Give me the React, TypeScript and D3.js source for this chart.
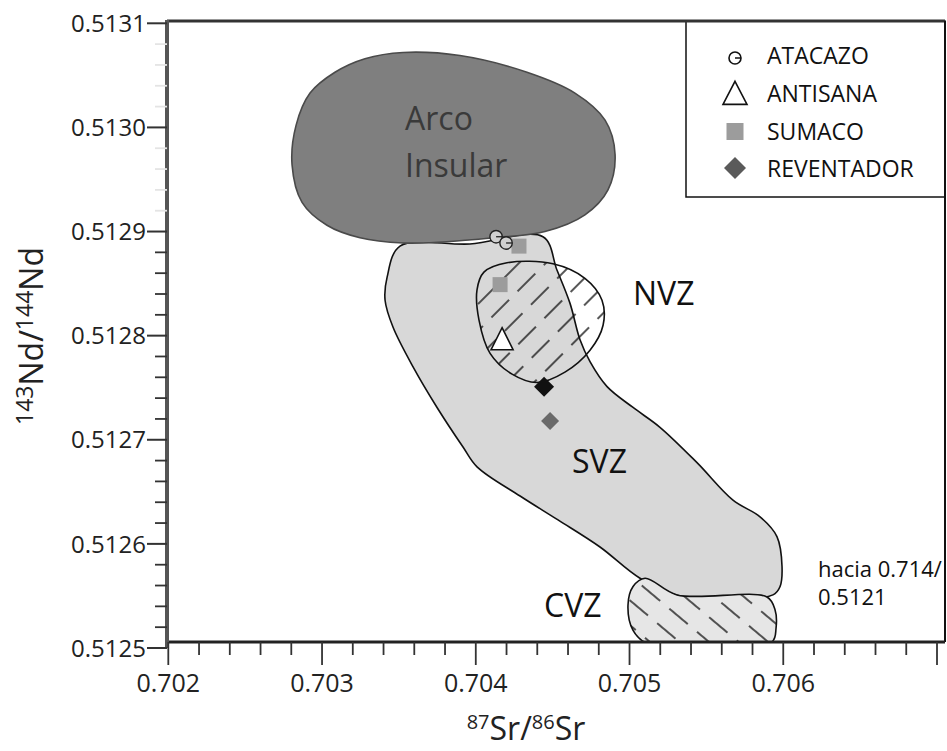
import React from 'react';
import * as d3 from 'd3';

const W = 947;
const H = 751;

// Axis ticks
const xMajorTicks = [0.702, 0.703, 0.704, 0.705, 0.706, 0.707];
const xTickLabels = ['0.702', '0.703', '0.704', '0.705', '0.706', ''];
const yMajorTicks = [0.5125, 0.5126, 0.5127, 0.5128, 0.5129, 0.513, 0.5131];
const yTickLabels = ['0.5125', '0.5126', '0.5127', '0.5128', '0.5129', '0.5130', '0.5131'];

// Fields (outline vertices, data units: [87Sr/86Sr, 143Nd/144Nd])
const arcoInsular: [number, number][] = [
  [0.702805, 0.512964], [0.702831, 0.513002], [0.702922, 0.513033], [0.703084, 0.513053],
  [0.703279, 0.513066], [0.703527, 0.513072], [0.703897, 0.513069], [0.704333, 0.513053],
  [0.704645, 0.513033], [0.704841, 0.513007], [0.704906, 0.512974], [0.70486, 0.51294],
  [0.70471, 0.512916], [0.70445, 0.5129], [0.704112, 0.512894], [0.703787, 0.51289],
  [0.703527, 0.512889], [0.703247, 0.512894], [0.703032, 0.512906], [0.70287, 0.512928],
];
const svz: [number, number][] = [
  [0.703507, 0.512886], [0.703962, 0.512888], [0.704437, 0.512895], [0.704528, 0.512863],
  [0.704613, 0.512831], [0.704678, 0.512796], [0.704743, 0.512775], [0.704854, 0.512751],
  [0.705023, 0.512731], [0.705198, 0.512712], [0.705439, 0.512678], [0.705673, 0.512642],
  [0.705849, 0.512626], [0.705959, 0.512607], [0.705992, 0.512578], [0.705979, 0.512559],
  [0.705933, 0.512551], [0.705328, 0.51255], [0.705068, 0.512567], [0.704808, 0.512597],
  [0.704535, 0.512623], [0.704288, 0.512646], [0.704008, 0.512674], [0.703917, 0.512693],
  [0.703748, 0.512731], [0.703592, 0.51277], [0.703462, 0.512808], [0.70341, 0.512834],
  [0.703423, 0.512856],
];
const nvz: [number, number][] = [
  [0.704203, 0.51287], [0.704502, 0.512869], [0.70471, 0.512855], [0.704821, 0.512834],
  [0.704828, 0.51281], [0.704743, 0.512786], [0.70458, 0.512765], [0.704398, 0.512755],
  [0.704236, 0.512763], [0.704093, 0.512783], [0.704021, 0.512815], [0.704008, 0.512844],
  [0.704053, 0.512861],
];
const cvz: [number, number][] = [
  [0.705101, 0.512567], [0.705309, 0.512551], [0.705894, 0.512549], [0.705946, 0.512537],
  [0.705953, 0.512519], [0.705927, 0.512506], [0.705458, 0.512502], [0.70512, 0.512504],
  [0.705023, 0.512517], [0.70499, 0.512541], [0.705023, 0.512559],
];

// Samples
const atacazo: [number, number][] = [[0.704132, 0.512895], [0.704197, 0.512889]];
const sumaco: [number, number][] = [[0.704281, 0.512886], [0.704158, 0.512849]];
const antisana: [number, number][] = [[0.704171, 0.512796]];
const reventador: [number, number][] = [[0.704444, 0.512751], [0.704483, 0.512718]];

const legendNames = ['ATACAZO', 'ANTISANA', 'SUMACO', 'REVENTADOR'];

const FONT = "'Open Sans', 'Noto Sans', sans-serif";

export default function App() {
  const left = 167, right = 945, top = 21, bottom = 642;
  const x = d3.scaleLinear().domain([0.702, 0.707]).range([168.3, 937]);
  const y = d3.scaleLinear().domain([0.5125, 0.5131]).range([648, 23.3]);

  const shape = d3
    .line<[number, number]>()
    .x((d) => x(d[0]))
    .y((d) => y(d[1]))
    .curve(d3.curveCatmullRomClosed.alpha(0.5));

  const xMinor = d3.range(0, 26).map((i) => 0.702 + i * 0.0002).filter((_, i) => i % 5 !== 0);
  const yMinor = d3.range(0, 31).map((i) => 0.5125 + i * 0.00002).filter((_, i) => i % 5 !== 0);

  const diamond = (cx: number, cy: number, r: number) =>
    `M${cx},${cy - r}L${cx + r},${cy}L${cx},${cy + r}L${cx - r},${cy}Z`;
  const triangle = (cx: number, cy: number, w: number, h: number) =>
    `M${cx},${cy - h * 0.55}L${cx + w / 2},${cy + h * 0.45}L${cx - w / 2},${cy + h * 0.45}Z`;

  const legendX = 686, legendSym = 735, legendText = 767;
  const legendBase = [64, 102, 140, 177];

  return (
    <svg width={W} height={H} style={{ position: 'absolute', left: 0, top: 0, background: '#fff' }}
      fontFamily={FONT}>
      <defs>
        <clipPath id="plotClip">
          <rect x={left} y={top} width={right - left} height={bottom - top} />
        </clipPath>
        <pattern id="hatchN" patternUnits="userSpaceOnUse" width={19} height={37}
          patternTransform="rotate(45)">
          <line x1={2} y1={0} x2={2} y2={25} stroke="#111" strokeWidth={1.4} />
        </pattern>
        <pattern id="hatchC" patternUnits="userSpaceOnUse" width={19} height={36}
          patternTransform="rotate(-50)">
          <line x1={2} y1={4} x2={2} y2={28} stroke="#111" strokeWidth={1.4} />
        </pattern>
      </defs>

      <g clipPath="url(#plotClip)">
        {/* SVZ */}
        <path d={shape(svz) || ''} fill="#d8d8d8" stroke="#111" strokeWidth={1.6} />
        {/* CVZ */}
        <path d={shape(cvz) || ''} fill="#e6e6e6" stroke="none" />
        <path d={shape(cvz) || ''} fill="url(#hatchC)" stroke="#111" strokeWidth={1.6} />
        {/* Arco Insular */}
        <path d={shape(arcoInsular) || ''} fill="#7f7f7f" stroke="#4a4a4a" strokeWidth={1.6} />
        {/* NVZ */}
        <path d={shape(nvz) || ''} fill="url(#hatchN)" stroke="#111" strokeWidth={1.6} />
      </g>

      {/* Field labels */}
      <text x={405} y={130} fontSize={32} fill="#3a3a3a">Arco</text>
      <text x={405} y={177} fontSize={32} fill="#3a3a3a">Insular</text>
      <text x={633} y={305} fontSize={32} fill="#111">NVZ</text>
      <text x={572} y={473} fontSize={32} fill="#111">SVZ</text>
      <text x={544} y={617} fontSize={32} fill="#111">CVZ</text>
      <text x={818} y={577} fontSize={22} fill="#111">hacia 0.714/</text>
      <text x={818} y={605} fontSize={22} fill="#111">0.5121</text>

      {/* Samples */}
      {sumaco.map((d, i) => (
        <rect key={'s' + i} x={x(d[0]) - 7.5} y={y(d[1]) - 7.5} width={15} height={15} fill="#9c9c9c" />
      ))}
      {atacazo.map((d, i) => (
        <g key={'a' + i}>
          <circle cx={x(d[0])} cy={y(d[1])} r={6.2} fill="#d0d0d0" stroke="#222" strokeWidth={1.4} />
          <line x1={x(d[0])} y1={y(d[1])} x2={x(d[0]) + 6} y2={y(d[1])} stroke="#222" strokeWidth={1.3} />
        </g>
      ))}
      {antisana.map((d, i) => (
        <path key={'t' + i} d={triangle(x(d[0]), y(d[1]), 22, 22)} fill="#fff" stroke="#111" strokeWidth={1.6} />
      ))}
      {reventador.map((d, i) => (
        <path key={'r' + i} d={diamond(x(d[0]), y(d[1]), i === 0 ? 10 : 9)} fill={i === 0 ? '#111' : '#6a6a6a'} />
      ))}

      {/* Legend */}
      <rect x={legendX} y={top} width={right - legendX} height={197 - top} fill="#fff" stroke="#111" strokeWidth={1.5} />
      <circle cx={legendSym} cy={58} r={6} fill="#fff" stroke="#111" strokeWidth={1.6} />
      <line x1={legendSym} y1={58} x2={legendSym + 6} y2={58} stroke="#111" strokeWidth={1.5} />
      <path d={triangle(legendSym, 94, 24, 23)} fill="#fff" stroke="#111" strokeWidth={1.6} />
      <rect x={legendSym - 8.5} y={123} width={17} height={17} fill="#9c9c9c" />
      <path d={diamond(legendSym, 168, 11)} fill="#5a5a5a" />
      {legendNames.map((n, i) => (
        <text key={n} x={legendText} y={legendBase[i]} fontSize={23} fill="#111">{n}</text>
      ))}

      {/* Frame */}
      <line x1={left} y1={top} x2={right} y2={top} stroke="#333" strokeWidth={3} />
      <line x1={right} y1={top} x2={right} y2={bottom} stroke="#111" strokeWidth={2} />
      <line x1={left} y1={bottom} x2={right} y2={bottom} stroke="#222" strokeWidth={3} />
      <line x1={left} y1={top - 1} x2={left} y2={648} stroke="#555" strokeWidth={4} />

      {/* Y ticks */}
      {yMajorTicks.map((v, i) => (
        <g key={'ym' + i}>
          <line x1={147} x2={left} y1={y(v)} y2={y(v)} stroke="#333" strokeWidth={2} />
          <text x={146} y={y(v)} dy="0.36em" textAnchor="end" fontSize={24} fill="#222">{yTickLabels[i]}</text>
        </g>
      ))}
      {yMinor.map((v, i) => (
        <line key={'yn' + i} x1={155} x2={left} y1={y(v)} y2={y(v)}
          stroke={v > 0.51291 ? '#e4e4e4' : '#333'} strokeWidth={1.8} />
      ))}

      {/* X ticks */}
      {xMajorTicks.map((v, i) => (
        <g key={'xm' + i}>
          <line x1={x(v)} x2={x(v)} y1={bottom} y2={665} stroke="#333" strokeWidth={1.8} />
          <text x={x(v)} y={692} textAnchor="middle" fontSize={25} fill="#222">{xTickLabels[i]}</text>
        </g>
      ))}
      {xMinor.map((v, i) => (
        <line key={'xn' + i} x1={x(v)} x2={x(v)} y1={bottom} y2={655} stroke="#333" strokeWidth={1.8} />
      ))}

      {/* Axis titles */}
      <text x={526} y={740} textAnchor="middle" fontSize={32} fill="#222">
        <tspan fontSize={20} dy={-11}>87</tspan>
        <tspan dy={11}>Sr/</tspan>
        <tspan fontSize={20} dy={-11}>86</tspan>
        <tspan dy={11}>Sr</tspan>
      </text>
      <text transform="translate(43,336) rotate(-90)" textAnchor="middle" fontSize={32} fill="#222">
        <tspan fontSize={23} dy={-10}>143</tspan>
        <tspan dy={10}>Nd/</tspan>
        <tspan fontSize={23} dy={-10}>144</tspan>
        <tspan dy={10}>Nd</tspan>
      </text>
    </svg>
  );
}
